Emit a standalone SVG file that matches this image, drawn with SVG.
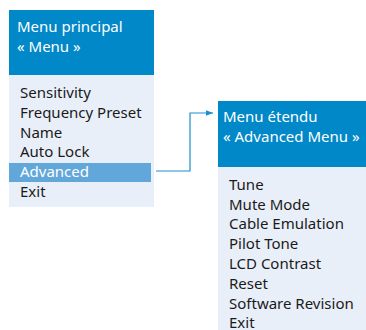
<svg xmlns="http://www.w3.org/2000/svg" width="366" height="330" viewBox="0 0 366 330">
<defs>
<style>
.hdr{fill:#0088c8}
.body{fill:#e9eff9}
.hl{fill:#62a7da}
.t{font-family:"Noto Sans","Open Sans",sans-serif;font-size:15px}
.ht{fill:#ffffff}
.it{fill:#1a1a1a}
.con{fill:none;stroke:#1a8fd0;stroke-width:1.2}
</style>
<marker id="ah" viewBox="0 0 10 10" refX="10" refY="5" markerWidth="7" markerHeight="7" markerUnits="userSpaceOnUse" orient="auto">
<path d="M0,1 L10,5 L0,9 Z" fill="#1a8fd0"/>
</marker>
</defs>
<g id="menu-principal">
<rect class="hdr" x="9" y="10" width="145" height="65"/>
<rect class="body" x="9" y="75" width="145" height="132"/>
<rect class="hl" x="9" y="163" width="142" height="19"/>
<text class="t ht" x="17" y="32">Menu principal</text>
<text class="t ht" x="17" y="52">« Menu »</text>
<text class="t it" x="20" y="98">Sensitivity</text>
<text class="t it" x="20" y="118">Frequency Preset</text>
<text class="t it" x="20" y="137.5">Name</text>
<text class="t it" x="20" y="157">Auto Lock</text>
<text class="t ht" x="20" y="177">Advanced</text>
<text class="t it" x="20" y="197">Exit</text>
</g>
<g id="menu-etendu">
<rect class="hdr" x="218" y="101" width="148" height="66"/>
<rect class="body" x="218" y="167" width="148" height="163"/>
<text class="t ht" x="223" y="122">Menu étendu</text>
<text class="t ht" x="223" y="142">« Advanced Menu »</text>
<text class="t it" x="229" y="190">Tune</text>
<text class="t it" x="229" y="209.5">Mute Mode</text>
<text class="t it" x="229" y="229">Cable Emulation</text>
<text class="t it" x="229" y="249">Pilot Tone</text>
<text class="t it" x="229" y="269">LCD Contrast</text>
<text class="t it" x="229" y="289">Reset</text>
<text class="t it" x="229" y="309">Software Revision</text>
<text class="t it" x="229" y="328">Exit</text>
</g>
<g id="connectors">
<polyline class="con" points="156,171 190,171 190,113 213,113" marker-end="url(#ah)"/>
</g>
</svg>
